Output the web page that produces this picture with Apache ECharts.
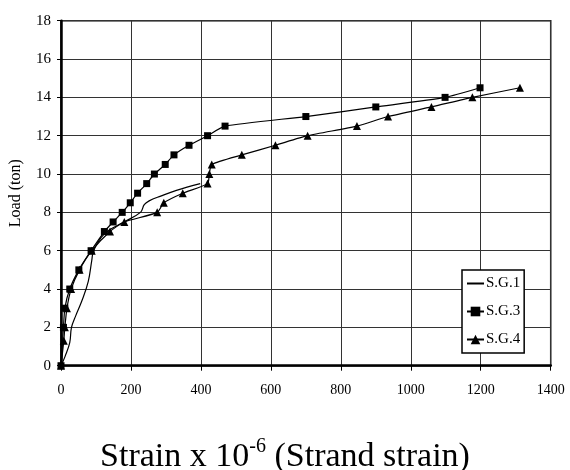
<!DOCTYPE html>
<html>
<head>
<meta charset="utf-8">
<script src="https://cdn.jsdelivr.net/npm/echarts@6/dist/echarts.min.js"></script>
<style>
html,body{margin:0;padding:0;background:#fff;}
#chart{width:570px;height:470px;}
</style>
</head>
<body>
<div id="chart"></div>
<script>
// Strain (x10^-6), Load (ton)
const sg1Strain = [0, 12, 25, 30, 42, 60, 78, 88, 93, 115, 140, 180, 227, 238, 252, 285, 330, 398];
const sg1Load   = [0, 0.5, 1.2, 2, 2.6, 3.4, 4.4, 5.5, 6, 6.7, 7.1, 7.5, 8, 8.4, 8.6, 8.85, 9.15, 9.5];

const sg3Strain = [0, 7, 11, 25, 51, 86, 124, 149, 175, 198, 219, 245, 267, 298, 323, 366, 419, 469, 700, 900, 1098, 1198];
const sg3Load   = [0, 2, 3, 4, 5, 6, 7, 7.5, 8, 8.5, 9, 9.5, 10, 10.5, 11, 11.5, 12, 12.5, 13, 13.5, 14, 14.5];

const sg4Strain = [0, 8, 11, 17, 29, 53, 88, 140, 181, 275, 294, 348, 419, 424, 431, 517, 613, 705, 846, 935, 1059, 1176, 1312];
const sg4Load   = [0, 1.3, 2, 3, 4, 5, 6, 7, 7.5, 8, 8.5, 9, 9.5, 10, 10.5, 11, 11.5, 12, 12.5, 13, 13.5, 14, 14.5];

const seriesNames = ['S.G.1', 'S.G.3', 'S.G.4'];
const xTitle = 'Strain x 10{sup|-6} (Strand strain)';
const yTitle = 'Load (ton)';

const zip = (a, b) => a.map((v, i) => [v, b[i]]);
const FONT = 'Liberation Serif';

const chart = echarts.init(document.getElementById('chart'));
chart.setOption({
  animation: false,
  backgroundColor: '#fff',
  title: {
    text: xTitle,
    left: 'center',
    top: 432,
    textStyle: {
      fontFamily: FONT, fontSize: 34, fontWeight: 'normal', color: '#000', lineHeight: 40,
      rich: { sup: { fontFamily: FONT, fontSize: 20, verticalAlign: 'top', lineHeight: 40, padding: [0,0,14,0] } }
    }
  },
  grid: { left: 60.7, right: 19.3, top: 20.7, bottom: 104.3, show: true, borderColor: '#000', borderWidth: 1.5 },
  legend: {
    orient: 'vertical',
    left: 462, top: 270,
    width: 65,
    padding: [6, 4, 6, 4],
    itemWidth: 17, itemHeight: 12, itemGap: 13,
    backgroundColor: '#fff',
    borderColor: '#000', borderWidth: 1.5,
    borderRadius: 0,
    textStyle: { fontFamily: FONT, fontSize: 15, color: '#000', padding: [0,0,0,-3] },
    data: [
      { name: seriesNames[0], itemStyle: { color: 'rgba(0,0,0,0)', borderWidth: 0 } },
      { name: seriesNames[1] },
      { name: seriesNames[2] }
    ]
  },
  xAxis: {
    type: 'value', min: 0, max: 1400, interval: 200,
    axisLine: { onZero: false, lineStyle: { color: '#000', width: 2.5 } },
    axisTick: { show: true, length: 5, lineStyle: { color: '#000', width: 1 } },
    axisLabel: { fontFamily: FONT, fontSize: 14, color: '#000', margin: 18, formatter: v => String(v) },
    splitLine: { show: true, lineStyle: { color: '#333', width: 1 } }
  },
  yAxis: {
    type: 'value', min: 0, max: 18, interval: 2,
    name: yTitle, nameLocation: 'middle', nameGap: 37, nameRotate: 90,
    nameTextStyle: { fontFamily: FONT, fontSize: 16, color: '#000' },
    axisLine: { onZero: false, lineStyle: { color: '#000', width: 2.5 } },
    axisTick: { show: true, length: 4, lineStyle: { color: '#000', width: 1 } },
    axisLabel: { fontFamily: FONT, fontSize: 15, color: '#000', margin: 10 },
    splitLine: { show: true, lineStyle: { color: '#333', width: 1 } }
  },
  series: [
    {
      name: seriesNames[0], type: 'line', data: zip(sg1Strain, sg1Load),
      smooth: 0.4, showSymbol: false, symbol: 'none',
      lineStyle: { color: '#000', width: 1.2 }, itemStyle: { color: '#000' }
    },
    {
      name: seriesNames[1], type: 'line', data: zip(sg3Strain, sg3Load),
      smooth: 0.2, symbol: 'rect', symbolSize: 7,
      lineStyle: { color: '#000', width: 1.2 }, itemStyle: { color: '#000' }
    },
    {
      name: seriesNames[2], type: 'line', data: zip(sg4Strain, sg4Load),
      smooth: 0.2, symbol: 'triangle', symbolSize: 8,
      lineStyle: { color: '#000', width: 1.2 }, itemStyle: { color: '#000' }
    }
  ]
});
</script>
</body>
</html>
